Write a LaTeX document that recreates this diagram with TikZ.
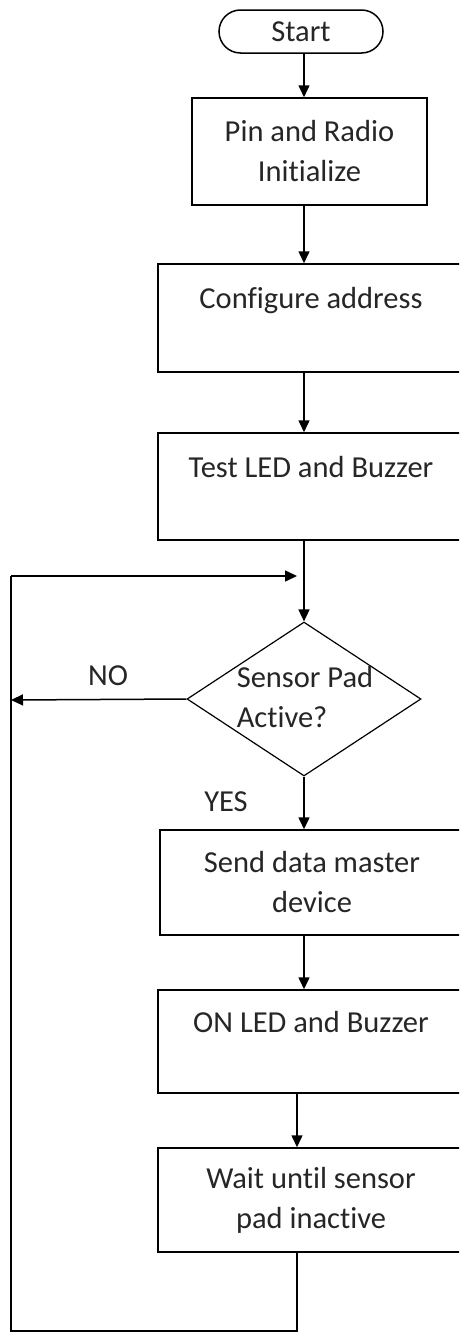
\documentclass[tikz,border=0pt]{standalone}
\usepackage{fontspec}
\setmainfont{Carlito}[RawFeature=-liga]
\usetikzlibrary{arrows.meta,shapes.geometric}
\begin{document}
\begin{tikzpicture}[x=1pt,y=-1pt,
  every node/.style={font=\fontsize{30.5}{40}\selectfont, text=black!85},
  box/.style={draw, line width=1.5pt, rectangle, inner sep=0pt, align=center},
  term/.style={draw, line width=1.5pt, rectangle, rounded corners=21.5pt, inner sep=0pt, minimum width=164pt, minimum height=43pt},
  dec/.style={draw, line width=1.2pt, diamond, inner sep=0pt, minimum width=234pt, minimum height=154pt},
  flow/.style={line width=1.5pt, -{Triangle[width=11pt,length=12pt]}},
  plain/.style={line width=1.5pt},
  lbl/.style={inner sep=0pt}]
\useasboundingbox (0,0) rectangle (459,1333);
\clip (0,0) rectangle (459,1333);
\fill[white] (0,0) rectangle (459,1333);

\coordinate (axis) at (304,0);
\node[term] (start) at (301,31.5) {Start};
\node[box, minimum width=235pt, minimum height=107pt] (pin) at (309.5,151.5) {Pin and Radio\\Initialize};
\node[box, minimum width=306pt, minimum height=108pt] (conf) at (311,318) {Configure address\\~};
\node[box, minimum width=306pt, minimum height=107pt] (test) at (311,486.5) {Test LED and Buzzer\\~};
\node[dec] (dec) at (304,699) {};
\node[lbl, align=left] (dectext) at (305,697.5) {Sensor Pad\\Active?};
\node[box, minimum width=304pt, minimum height=105pt] (send) at (312,882.5) {Send data master\\device};
\node[box, minimum width=306pt, minimum height=103pt] (on) at (311,1041.5) {ON LED and Buzzer\\~};
\node[box, minimum width=306pt, minimum height=104pt] (wait) at (311,1200) {Wait until sensor\\pad inactive};

\node[lbl] (no) at (108,676) {NO};
\node[lbl] (yes) at (226,802) {YES};

\coordinate (noend) at (11,700);
\coordinate (c1) at (297,1331);
\coordinate (c2) at (11,1331);
\coordinate (c3) at (11,576);
\coordinate (c4) at (297,576);
\coordinate (ax2) at (297,0);

\draw[flow] (start.south -| axis) -- (pin.north -| axis);
\draw[flow] (pin.south -| axis) -- (conf.north -| axis);
\draw[flow] (conf.south -| axis) -- (test.north -| axis);
\draw[flow] (test.south -| axis) -- (dec.north);
\draw[flow] (dec.south) -- (send.north -| axis);
\draw[flow] (send.south -| axis) -- (on.north -| axis);
\draw[flow] (on.south -| ax2) -- (wait.north -| ax2);
\draw[flow] (dec.west) -- (noend);
\draw[plain] (wait.south -| ax2) -- (c1) -- (c2) -- (c3);
\draw[flow] (c3) -- (c4);
\end{tikzpicture}
\end{document}
